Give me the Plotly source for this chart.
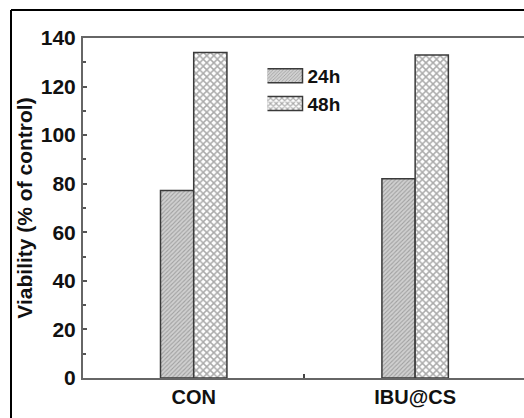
import plotly.graph_objects as go

categories = ["CON", "IBU@CS"]
series_names = ["24h", "48h"]
values_24h = [77.2, 82.0]
values_48h = [134.0, 133.0]
y_ticks = [0, 20, 40, 60, 80, 100, 120, 140]

FONT = "Liberation Sans, Arial, sans-serif"

fig = go.Figure()
fig.add_trace(go.Bar(
    x=categories, y=values_24h, name=series_names[0],
    marker=dict(color="#c8c8c8",
                line=dict(color="#3a3a3a", width=1.5),
                pattern=dict(shape="/", fgcolor="#707070", bgcolor="#d0d0d0",
                             size=3, solidity=0.35)),
))
fig.add_trace(go.Bar(
    x=categories, y=values_48h, name=series_names[1],
    marker=dict(color="white",
                line=dict(color="#3a3a3a", width=1.5),
                pattern=dict(shape="x", fgcolor="#555555", bgcolor="white",
                             size=5, solidity=0.5)),
))

W, H = 524, 418
L, R, T, B = 83, 0, 38, 40
pw = W - L - R
ph = H - T - B

fig.update_layout(
    width=W, height=H,
    margin=dict(l=L, r=R, t=T, b=B, autoexpand=False),
    paper_bgcolor="white", plot_bgcolor="white",
    barmode="group", bargap=0.7, bargroupgap=0,
    font=dict(family=FONT, size=20, color="#111111"),
    showlegend=True,
    legend=dict(
        x=(267.5 - L) / pw, y=(378 - 57) / ph, xanchor="left", yanchor="top",
        bgcolor="rgba(0,0,0,0)", borderwidth=0,
        font=dict(family=FONT, size=19, color="#111111", weight="bold"),
        tracegroupgap=0, itemwidth=30,
    ),
    xaxis=dict(
        type="category", range=[-0.5, (W - R - 193.3) / 221.7],
        showline=True, linecolor="#666666", linewidth=2, mirror=True,
        ticks="inside", ticklen=4, tickcolor="#444444", tickwidth=2,
        tickson="boundaries",
        showgrid=False, zeroline=False,
        tickfont=dict(family=FONT, size=20, color="#111111", weight="bold"),
    ),
    yaxis=dict(
        range=[0, 140], tickvals=y_ticks,
        showline=True, linecolor="#666666", linewidth=2, mirror=False,
        ticks="inside", ticklen=4, tickcolor="#555555", tickwidth=1.5,
        minor=dict(ticks="inside", ticklen=3, dtick=10, tickcolor="#555555", tickwidth=1.5),
        showgrid=False, zeroline=False,
        ticklabelstandoff=1,
        tickfont=dict(family=FONT, size=21, color="#111111", weight="bold"),
        title=dict(text="Viability (% of control)", standoff=2,
                   font=dict(family=FONT, size=21, color="#111111", weight="bold")),
    ),
)

# outer frame of the figure: only its left and top edges fall inside the picture
fx = (11 - L) / pw
fy = (H - B - 10) / ph
fig.add_shape(type="line", xref="paper", yref="paper",
              x0=fx, x1=fx, y0=-B / ph, y1=fy,
              line=dict(color="black", width=2), layer="above")
fig.add_shape(type="line", xref="paper", yref="paper",
              x0=fx, x1=1.0, y0=fy, y1=fy,
              line=dict(color="black", width=2), layer="above")

post = """
(function(){
  document.documentElement.style.overflow = 'hidden';
  document.body.style.overflow = 'hidden';
  document.body.style.margin = '0';
  function fix(){
    var gd = document.getElementById('{plot_id}');
    if(!gd) return;
    var paths = gd.querySelectorAll('.legend .legendpoints path');
    paths.forEach(function(p){ p.setAttribute('d','M15,7H-21V-7H15Z'); });
  }
  fix();
  setTimeout(fix, 50);
  setTimeout(fix, 300);
  var gd = document.getElementById('{plot_id}');
  if(gd && gd.on){ gd.on('plotly_afterplot', fix); }
})();
"""

fig.write_html("out.html", post_script=post)
